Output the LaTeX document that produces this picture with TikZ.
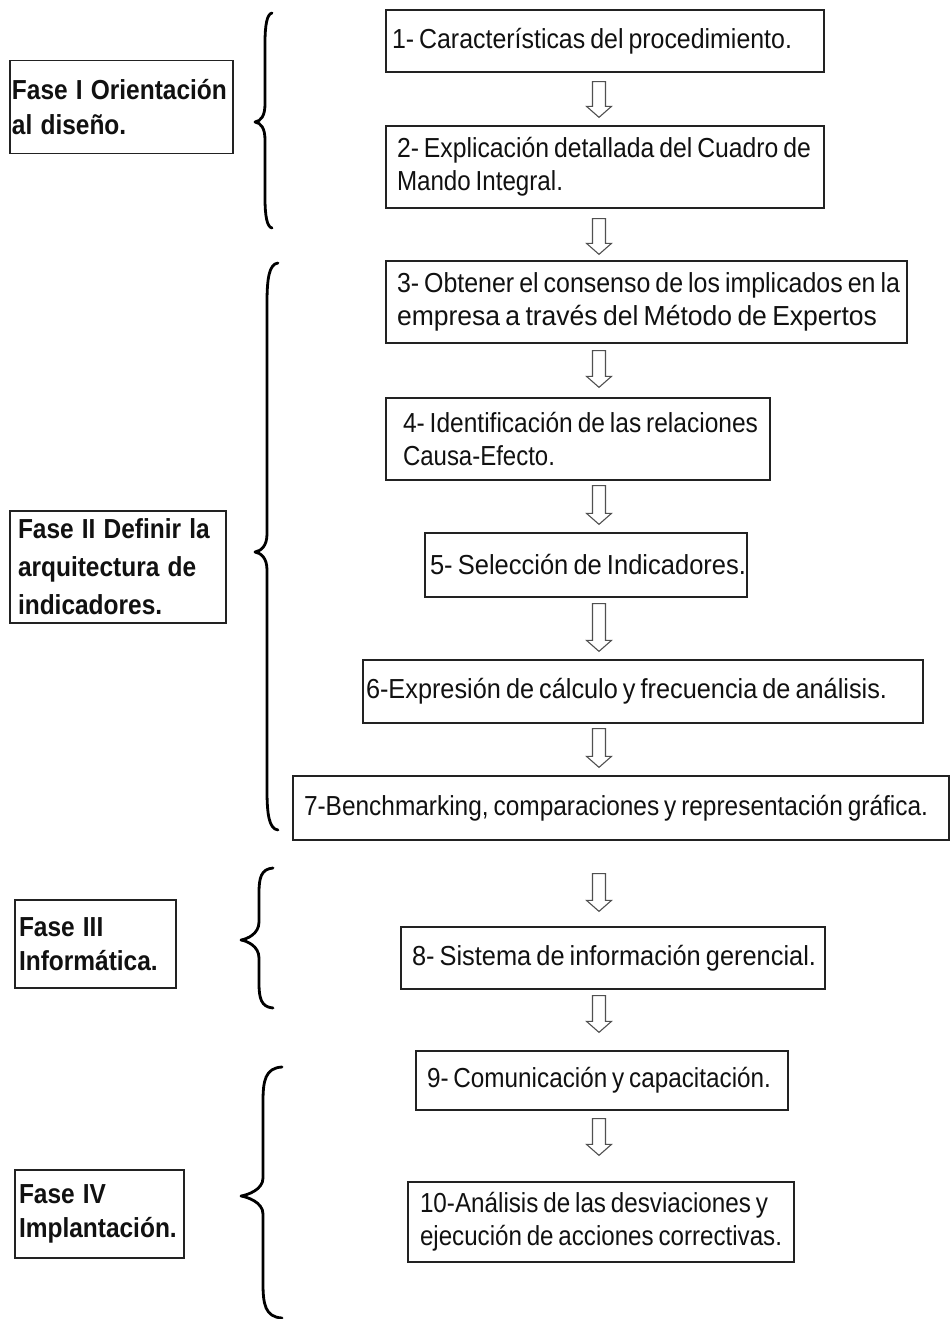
\documentclass[tikz,border=0pt]{standalone}
\usepackage{fontspec}
\setmainfont{Liberation Sans}
\usetikzlibrary{calc}

\definecolor{boxline}{HTML}{222222}
\definecolor{arrowline}{HTML}{505050}
\definecolor{ink}{HTML}{111111}

% one unbreakable line of step text, set to a given width (#1, in pt)
\newcommand\stepline[2]{\resizebox{#1pt}{\height}{\spaceskip=5.5pt plus 1pt minus 1pt\relax #2}}
% one line of a phase label, narrowed a little
\newcommand\phaseline[1]{\scalebox{0.89}[1]{#1}}

% Curly brace drawn by hand:
% #1 arm end x, #2 spine x, #3 tip x, #4 top y, #5 tip y, #6 bottom y, #7 bend length
\newcommand\curlybrace[7]{%
  \draw[bracestroke] (#1,#4) .. controls (#2+2,#4+1) and (#2,#4+0.4*#7) .. (#2,#4+#7)
    -- (#2,#5-18) .. controls (#2,#5-6) and (#3+6,#5-1) .. (#3,#5)
    .. controls (#3+6,#5+1) and (#2,#5+6) .. (#2,#5+18)
    -- (#2,#6-#7) .. controls (#2,#6-0.4*#7) and (#2+2,#6-1) .. (#1,#6);}

\begin{document}
\begin{tikzpicture}[x=1pt,y=-1pt,
  stepbox/.style n args={4}{draw=boxline, line width=1.3pt, text=ink,
    font=\fontsize{27.5}{33}\selectfont, align=left,
    minimum width=#1pt, minimum height=#2pt, text width=#3pt,
    inner xsep=#4pt, inner ysep=0pt},
  phasebox/.style n args={4}{draw=boxline, line width=1.3pt, text=ink,
    font=\bfseries\fontsize{27.5}{34.5}\selectfont, align=left,
    minimum width=#1pt, minimum height=#2pt, text width=#3pt,
    inner xsep=#4pt, inner ysep=0pt},
  bracestroke/.style={draw=black, line width=2.8pt, line cap=round, line join=round},
  blockarrow/.style={draw=arrowline, line width=1.1pt, line join=miter,
    to path={let \p1=(\tikztostart), \p2=(\tikztotarget) in
      (\x1-6.5pt,\y1) -- (\x1+6.5pt,\y1) -- (\x1+6.5pt,\y2+11pt)
      -- (\x1+12.5pt,\y2+11pt) -- (\x1,\y2) -- (\x1-12.5pt,\y2+11pt)
      -- (\x1-6.5pt,\y2+11pt) -- cycle}}
]
\fill[white] (0,0) rectangle (951,1319);
\useasboundingbox (0,0) rectangle (951,1319);

% column of the down arrows
\coordinate (ax) at (599,0);

% steps
\node[stepbox={438}{62}{426}{6}] (b1) at (605,41)
  {\stepline{400}{1- Características del procedimiento.}};
\node[stepbox={438}{82}{416}{11}] (b2) at (605,167)
  {\stepline{414}{2- Explicación detallada del Cuadro de}\\\stepline{166}{Mando Integral.}};
\node[stepbox={521}{82}{499}{11}] (b3) at (646.5,302)
  {\stepline{503}{3- Obtener el consenso de los implicados en la}\\\stepline{480}{empresa a través del Método de Expertos}};
\node[stepbox={384}{82}{350}{17}] (b4) at (578,439)
  {\stepline{355}{4- Identificación de las relaciones}\\\stepline{152}{Causa-Efecto.}};
\node[stepbox={322}{64}{312}{5}] (b5) at (586,565)
  {\stepline{316}{5- Selección de Indicadores.}};
\node[stepbox={560}{63}{554}{3}] (b6) at (643,691.5)
  {\stepline{521}{6-Expresión de cálculo y frecuencia de análisis.}};
\node[stepbox={656}{64}{634}{11}] (b7) at (621,808)
  {\stepline{624}{7-Benchmarking, comparaciones y representación gráfica.}};
\node[stepbox={424}{62}{402}{11}] (b8) at (613,958)
  {\stepline{404}{8- Sistema de información gerencial.}};
\node[stepbox={372}{59}{350}{11}] (b9) at (602,1080.5)
  {\stepline{344}{9- Comunicación y capacitación.}};
\node[stepbox={386}{80}{362}{12}] (b10) at (601,1222)
  {\stepline{348}{10-Análisis de las desviaciones y}\\\stepline{362}{ejecución de acciones correctivas.}};

% phases
\node[phasebox={223}{93}{219}{2}] (f1) at (121.5,107)
  {\phaseline{Fase I Orientación}\\\phaseline{al diseño.}};
\node[phasebox={216}{112}{200}{8}, font=\bfseries\fontsize{27.5}{38}\selectfont] (f2) at (118,567)
  {\phaseline{Fase II Definir la}\\\phaseline{arquitectura de}\\\phaseline{indicadores.}};
\node[phasebox={161}{88}{153}{4}] (f3) at (95.5,944)
  {\phaseline{Fase III}\\\phaseline{Informática.}};
\node[phasebox={169}{88}{161}{4}] (f4) at (99.5,1214)
  {\phaseline{Fase IV}\\\phaseline{Implantación.}};

% braces grouping the steps of each phase
\curlybrace{272}{265}{255}{13}{122}{228}{30}
\curlybrace{278}{267}{255}{263}{552}{830}{40}
\curlybrace{273}{259}{241}{868}{940}{1008}{25}
\curlybrace{282}{263}{241}{1067}{1196}{1318}{35}

% flow arrows
\draw[blockarrow] ([yshift=-9pt]b1.south -| ax) to ([yshift=8pt]b2.north -| ax);
\draw[blockarrow] ([yshift=-10pt]b2.south -| ax) to ([yshift=6pt]b3.north -| ax);
\draw[blockarrow] ([yshift=-7pt]b3.south -| ax) to ([yshift=10pt]b4.north -| ax);
\draw[blockarrow] ([yshift=-5pt]b4.south -| ax) to ([yshift=8pt]b5.north -| ax);
\draw[blockarrow] ([yshift=-6pt]b5.south -| ax) to ([yshift=8pt]b6.north -| ax);
\draw[blockarrow] ([yshift=-5pt]b6.south -| ax) to ([yshift=8pt]b7.north -| ax);
\draw[blockarrow] ([yshift=-33pt]b7.south -| ax) to ([yshift=15pt]b8.north -| ax);
\draw[blockarrow] ([yshift=-6pt]b8.south -| ax) to ([yshift=18pt]b9.north -| ax);
\draw[blockarrow] ([yshift=-8pt]b9.south -| ax) to ([yshift=26pt]b10.north -| ax);
\end{tikzpicture}
\end{document}
